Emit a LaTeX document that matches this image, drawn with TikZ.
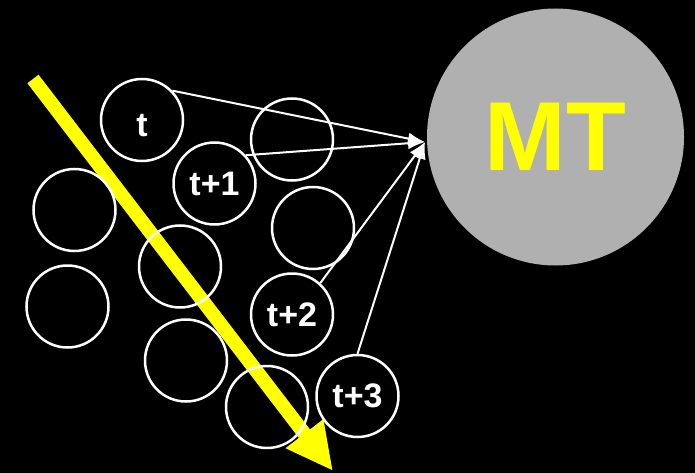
\documentclass[tikz,border=0pt]{standalone}
\usepackage{fontspec}
\setmainfont{Liberation Sans}
\usetikzlibrary{arrows.meta}
\definecolor{mtgray}{HTML}{B0B0B0}
\definecolor{ylw}{HTML}{FFFF00}
\begin{document}
\begin{tikzpicture}[x=1pt,y=-1pt,
  bub/.style={circle,draw=white,line width=2.5pt,minimum size=82pt,inner sep=0pt,text=white,font=\fontsize{34}{34}\selectfont\bfseries},
  link/.style={draw=white,line width=2pt,-{Latex[length=17pt,width=12pt]}},
  bigarrow/.style={draw=ylw,line width=14pt,-{Triangle[length=47pt,width=44pt]}},
]
\fill[black] (0,0) rectangle (695,473);
\useasboundingbox (0,0) rectangle (695,473);
\node[circle,fill=mtgray,minimum size=257pt,inner sep=0pt,text=ylw,font=\fontsize{98}{98}\selectfont\bfseries] (mt) at (555.5,137) {MT};
\coordinate (ys) at (33,79);
\coordinate (ye) at (333,471);
\draw[bigarrow] (ys) -- (ye);
\node[bub] (t) at (142,120) {\raisebox{-5pt}[\height][0pt]{t}};
\node[bub] (t1) at (214.5,183.5) {t+1};
\node[bub] (c1) at (292,139.5) {};
\node[bub] (c2) at (74.5,210) {};
\node[bub] (c3) at (313,228) {};
\node[bub] (c4) at (180,266.5) {};
\node[bub] (c5) at (67.5,306.5) {};
\node[bub] (t2) at (292,314.5) {t+2};
\node[bub] (c6) at (186,360.5) {};
\node[bub] (c7) at (267,407) {};
\node[bub] (t3) at (357.5,396) {t+3};
\coordinate (hub) at (425,142);
\draw[link] (t.44) -- (hub);
\draw[link] (t1.42) -- (hub);
\draw[link] (t2.48) -- (hub);
\draw[link] (t3.90) -- (hub);
\end{tikzpicture}
\end{document}
